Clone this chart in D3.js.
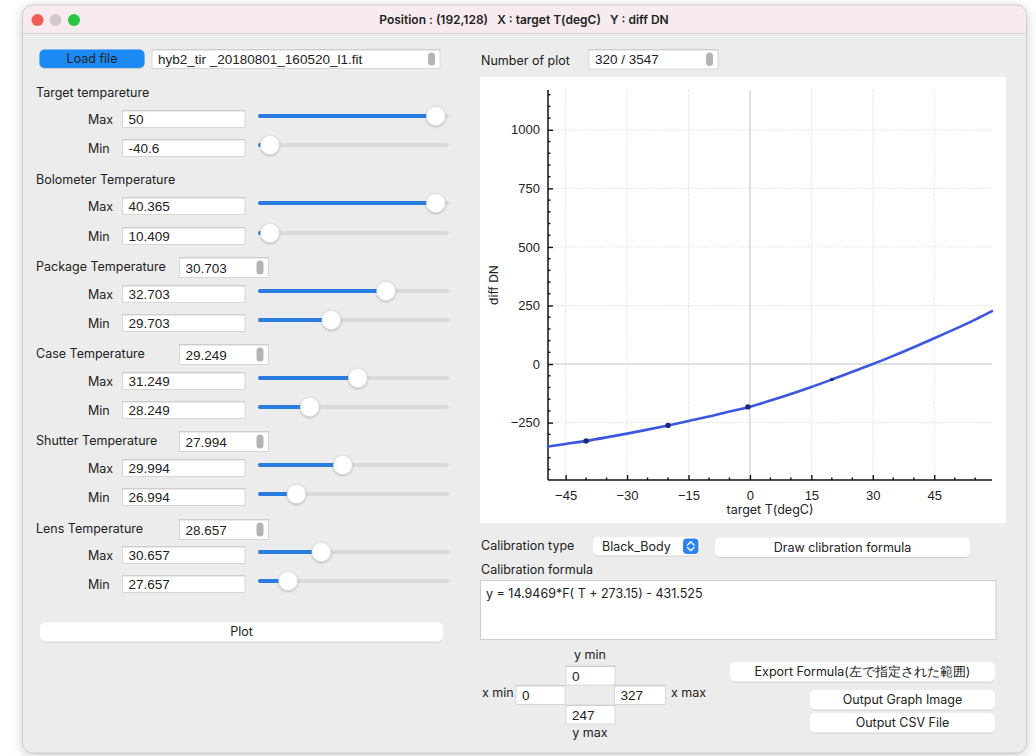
<!DOCTYPE html>
<html>
<head>
<meta charset="utf-8">
<script src="https://cdn.jsdelivr.net/npm/d3@7"></script>
<style>
  html, body { margin: 0; padding: 0; background: #ffffff; }
  svg { display: block; }
  .ui { font-family: "Inter", "Noto Sans", sans-serif; font-size: 12px; fill: #222; }
  .val { font-family: "Liberation Sans", "Arial", sans-serif; font-size: 13.5px; fill: #222; }
  .tick { font-family: "Liberation Sans", "Arial", sans-serif; font-size: 13px; fill: #222; }
</style>
</head>
<body>
<svg id="app" width="1036" height="756"></svg>
<script>
// ---- Calibration curve (target temperature in degC vs diff DN) ----
const curveTemps = [-49.3, -45, -40, -35, -30, -25, -20, -15, -10, -5, 0, 5, 10, 15, 20, 25, 30, 35, 40, 45, 50, 55, 59.1];
const curveDN    = [-352, -341, -328, -313, -297, -280, -262, -243, -224, -203, -182, -156, -128, -98, -66, -33, 0, 35, 72, 110, 149, 190, 226];

// Measured samples shown on the curve
const sampleTemps = [-40, -20, -0.5, 20];
const sampleDN    = [-328, -262, -183, -66];

// Axis ticks
const xTicks = [-45, -30, -15, 0, 15, 30, 45];
const yTicks = [-250, 0, 250, 500, 750, 1000];
const xDomain = [-49.3, 59.1];
const yDomain = [-495, 1170];

// ---- Temperature filter panel ----
const sectionNames   = ["Target tempareture", "Bolometer Temperature", "Package Temperature", "Case Temperature", "Shutter Temperature", "Lens Temperature"];
const currentValues  = [null, null, "30.703", "29.249", "27.994", "28.657"];
const maxValues      = ["50", "40.365", "32.703", "31.249", "29.994", "30.657"];
const minValues      = ["-40.6", "10.409", "29.703", "28.249", "26.994", "27.657"];
const maxSliderFrac  = [0.94, 0.94, 0.674, 0.523, 0.443, 0.328];
const minSliderFrac  = [0.053, 0.053, 0.381, 0.266, 0.195, 0.15];

const fileName = "hyb2_tir _20180801_160520_l1.fit";
const plotCount = "320 / 3547";
const calibType = "Black_Body";
const formulaText = "y = 14.9469*F( T + 273.15) - 431.525";
const rangeFields = { ymin: "0", xmin: "0", xmax: "327", ymax: "247" };
const windowTitle = "Position : (192,128)   X : target T(degC)   Y : diff DN";

const svg = d3.select("#app");
const defs = svg.append("defs");

const winShadow = defs.append("filter").attr("id", "winShadow")
  .attr("x", "-10%").attr("y", "-10%").attr("width", "120%").attr("height", "120%");
winShadow.append("feDropShadow").attr("dx", 0).attr("dy", 2).attr("stdDeviation", 6)
  .attr("flood-color", "#000").attr("flood-opacity", 0.22);

const ctlShadow = defs.append("filter").attr("id", "ctlShadow")
  .attr("x", "-20%").attr("y", "-40%").attr("width", "140%").attr("height", "180%");
ctlShadow.append("feDropShadow").attr("dx", 0).attr("dy", 0.6).attr("stdDeviation", 0.7)
  .attr("flood-color", "#000").attr("flood-opacity", 0.22);

const knobShadow = defs.append("filter").attr("id", "knobShadow")
  .attr("x", "-50%").attr("y", "-50%").attr("width", "200%").attr("height", "200%");
knobShadow.append("feDropShadow").attr("dx", 0).attr("dy", 0.8).attr("stdDeviation", 1.1)
  .attr("flood-color", "#000").attr("flood-opacity", 0.3);

// ---- Window frame ----
const win = { x: 22.5, y: 5, w: 1004, h: 748, r: 10 };
defs.append("clipPath").attr("id", "winClip").append("rect")
  .attr("x", win.x).attr("y", win.y).attr("width", win.w).attr("height", win.h).attr("rx", win.r);

svg.append("rect").attr("x", win.x).attr("y", win.y).attr("width", win.w).attr("height", win.h)
  .attr("rx", win.r).attr("fill", "#ececec").attr("filter", "url(#winShadow)");

const frame = svg.append("g").attr("clip-path", "url(#winClip)");
frame.append("rect").attr("x", win.x).attr("y", win.y).attr("width", win.w).attr("height", 28).attr("fill", "#f8ebf0");
frame.append("line").attr("x1", win.x).attr("x2", win.x + win.w).attr("y1", 33.5).attr("y2", 33.5)
  .attr("stroke", "#dcd2d6").attr("stroke-width", 1);
svg.append("rect").attr("x", win.x).attr("y", win.y).attr("width", win.w).attr("height", win.h)
  .attr("rx", win.r).attr("fill", "none").attr("stroke", "#c4c4c4").attr("stroke-width", 0.8);

[["#ee5d56", 37.5], ["#d0c9cd", 55.5], ["#2bc641", 74]].forEach(([c, cx]) => {
  svg.append("circle").attr("cx", cx).attr("cy", 20).attr("r", 6).attr("fill", c);
});
svg.append("text").attr("x", 524).attr("y", 23.5).attr("text-anchor", "middle")
  .attr("class", "ui").style("font-weight", 600).style("font-size", "12px").style("white-space", "pre")
  .attr("fill", "#3c3c3c")
  .text(windowTitle);

// ---- Control helpers ----
function textField(x, y, w, h, value, scroll) {
  const g = svg.append("g");
  g.append("rect").attr("x", x).attr("y", y).attr("width", w).attr("height", h)
    .attr("fill", "#fff").attr("stroke", "#cfcfcf").attr("stroke-width", 0.8);
  g.append("line").attr("x1", x).attr("x2", x + w).attr("y1", y + 0.5).attr("y2", y + 0.5)
    .attr("stroke", "#b9b9b9").attr("stroke-width", 0.6);
  if (scroll) {
    g.append("rect").attr("x", x + w - 12).attr("y", y + 3).attr("width", 7).attr("height", h - 6)
      .attr("rx", 3.5).attr("fill", "#b4b4b4");
  }
  g.append("text").attr("class", "val").attr("x", x + 6).attr("y", y + h / 2 + 5).text(value);
  return g;
}

function button(x, y, w, h, label, primary) {
  const g = svg.append("g");
  g.append("rect").attr("x", x).attr("y", y).attr("width", w).attr("height", h).attr("rx", 5)
    .attr("fill", primary ? "#1d8af5" : "#ffffff").attr("filter", "url(#ctlShadow)");
  g.append("text").attr("class", "ui").attr("x", x + w / 2).attr("y", y + h / 2 + 4.3)
    .attr("text-anchor", "middle").attr("fill", primary ? "#ffffff" : "#2a2a2a")
    .style("font-size", "12.5px").text(label);
  return g;
}

function slider(x0, x1, y, frac) {
  const g = svg.append("g");
  const kx = x0 + (x1 - x0) * frac;
  g.append("line").attr("x1", x0).attr("x2", x1).attr("y1", y).attr("y2", y)
    .attr("stroke", "#dadada").attr("stroke-width", 4).attr("stroke-linecap", "round");
  g.append("line").attr("x1", x0).attr("x2", kx).attr("y1", y).attr("y2", y)
    .attr("stroke", "#2a7de0").attr("stroke-width", 4).attr("stroke-linecap", "round");
  g.append("circle").attr("cx", kx).attr("cy", y).attr("r", 9.5)
    .attr("fill", "#ffffff").attr("stroke", "#d2d2d2").attr("stroke-width", 0.5)
    .attr("filter", "url(#knobShadow)");
  return g;
}

// ---- Left panel ----
button(39.5, 49.5, 105, 18.5, "Load file", true);
textField(152, 49.5, 288, 19, fileName, true);

const headerY = [92, 179, 266, 353, 440, 528];
const maxRowY = [119, 206, 294, 381, 468, 555];
const minRowY = [148, 236, 323, 410, 497, 584];

sectionNames.forEach((name, i) => {
  svg.append("text").attr("class", "ui").attr("x", 36).attr("y", headerY[i] + 4.5)
    .style("font-size", "12.5px").text(name);
  if (currentValues[i] !== null) {
    textField(179.5, headerY[i] - 8.5, 89, 20, currentValues[i], true);
  }
  [[maxRowY[i], "Max", maxValues[i], maxSliderFrac[i]], [minRowY[i], "Min", minValues[i], minSliderFrac[i]]]
    .forEach(([ry, lbl, v, f]) => {
      svg.append("text").attr("class", "ui").attr("x", 88).attr("y", ry + 4.5)
        .style("font-size", "12.5px").text(lbl);
      textField(122.5, ry - 8.5, 122.5, 17, v, false);
      slider(260, 447, ry - 3, f);
    });
});

button(40, 622.5, 403, 19, "Plot", false);

// ---- Right panel: plot count ----
svg.append("text").attr("class", "ui").attr("x", 481).attr("y", 64.5).style("font-size", "12.5px").text("Number of plot");
textField(589, 49.5, 129, 19.5, plotCount, true);

// ---- Chart ----
const panel = { x: 480, y: 77, w: 526, h: 446 };
svg.append("rect").attr("x", panel.x).attr("y", panel.y).attr("width", panel.w).attr("height", panel.h).attr("fill", "#ffffff");

const plot = { left: 548, right: 992, top: 90, bottom: 480 };
const x = d3.scaleLinear().domain(xDomain).range([plot.left, plot.right]);
const y = d3.scaleLinear().domain(yDomain).range([plot.bottom, plot.top]);

const chart = svg.append("g");

// dotted grid at major ticks
chart.append("g").selectAll("line").data(xTicks.filter(d => d !== 0)).join("line")
  .attr("x1", d => x(d)).attr("x2", d => x(d)).attr("y1", plot.top).attr("y2", plot.bottom)
  .attr("stroke", "#d6d6d6").attr("stroke-width", 1).attr("stroke-dasharray", "1,1.6");
chart.append("g").selectAll("line").data(yTicks.filter(d => d !== 0)).join("line")
  .attr("x1", plot.left).attr("x2", plot.right).attr("y1", d => y(d)).attr("y2", d => y(d))
  .attr("stroke", "#d6d6d6").attr("stroke-width", 1).attr("stroke-dasharray", "1,1.6");

// zero lines
chart.append("line").attr("x1", x(0)).attr("x2", x(0)).attr("y1", plot.top).attr("y2", plot.bottom)
  .attr("stroke", "#d9d9d9").attr("stroke-width", 1.6);
chart.append("line").attr("x1", plot.left).attr("x2", plot.right).attr("y1", y(0)).attr("y2", y(0))
  .attr("stroke", "#d9d9d9").attr("stroke-width", 1.6);

// axes
const xAxis = d3.axisBottom(x).tickValues(xTicks).tickSize(-5).tickPadding(8).tickFormat(d3.format("d"));
const yAxis = d3.axisLeft(y).tickValues(yTicks).tickSize(-5).tickPadding(8).tickFormat(d3.format("d"));

const gx = chart.append("g").attr("transform", `translate(0,${plot.bottom})`).call(xAxis);
const gy = chart.append("g").attr("transform", `translate(${plot.left},0)`).call(yAxis);
[gx, gy].forEach(g => {
  g.select(".domain").remove();
  g.selectAll(".tick line").attr("stroke", "#111").attr("stroke-width", 1.4);
  g.selectAll(".tick text").attr("class", "tick").attr("fill", "#222");
});
gx.selectAll(".tick text").attr("dy", "0.9em");

// minor ticks
const xMinor = d3.range(-45, 60, 5).filter(d => xTicks.indexOf(d) < 0);
const yMinor = d3.range(-450, 1151, 50).filter(d => yTicks.indexOf(d) < 0);
chart.append("g").selectAll("line").data(xMinor).join("line")
  .attr("x1", d => x(d)).attr("x2", d => x(d)).attr("y1", plot.bottom - 2.5).attr("y2", plot.bottom)
  .attr("stroke", "#111").attr("stroke-width", 1.4);
chart.append("g").selectAll("line").data(yMinor).join("line")
  .attr("x1", plot.left).attr("x2", plot.left + 2.5).attr("y1", d => y(d)).attr("y2", d => y(d))
  .attr("stroke", "#111").attr("stroke-width", 1.4);

chart.append("line").attr("x1", plot.left).attr("x2", plot.right).attr("y1", plot.bottom).attr("y2", plot.bottom)
  .attr("stroke", "#111").attr("stroke-width", 1.5);
chart.append("line").attr("x1", plot.left).attr("x2", plot.left).attr("y1", plot.top).attr("y2", plot.bottom)
  .attr("stroke", "#111").attr("stroke-width", 1.5);

// axis titles
chart.append("text").attr("class", "ui").attr("x", 770).attr("y", 514).attr("text-anchor", "middle")
  .style("font-size", "12.5px").text("target T(degC)");
chart.append("text").attr("class", "ui").attr("transform", "translate(498,285) rotate(-90)")
  .attr("text-anchor", "middle").style("font-size", "12px").text("diff DN");

// calibration curve
const curvePts = curveTemps.map((t, i) => [t, curveDN[i]]);
const line = d3.line().x(d => x(d[0])).y(d => y(d[1])).curve(d3.curveMonotoneX);
chart.append("path").datum(curvePts).attr("d", line)
  .attr("fill", "none").attr("stroke", "#3b57e2").attr("stroke-width", 2.6).attr("stroke-linecap", "round");

// sample points
chart.append("g").selectAll("circle").data(sampleTemps.map((t, i) => [t, sampleDN[i]])).join("circle")
  .attr("cx", d => x(d[0])).attr("cy", d => y(d[1])).attr("r", (d, i) => i === 3 ? 1.8 : 2.7)
  .attr("fill", "#1b2a78");

// ---- Calibration controls ----
svg.append("text").attr("class", "ui").attr("x", 481).attr("y", 550).style("font-size", "12.5px").text("Calibration type");
const dd = svg.append("g");
dd.append("rect").attr("x", 593).attr("y", 537).attr("width", 107).attr("height", 18.5).attr("rx", 5)
  .attr("fill", "#fff").attr("filter", "url(#ctlShadow)");
dd.append("text").attr("class", "ui").attr("x", 602).attr("y", 550.5).style("font-size", "12.5px").text(calibType);
dd.append("rect").attr("x", 683).attr("y", 538.5).attr("width", 15.5).attr("height", 15.5).attr("rx", 4).attr("fill", "#2b83f0");
dd.append("path").attr("d", "M687.5,545 L690.75,541.8 L694,545 M687.5,547.5 L690.75,550.7 L694,547.5")
  .attr("fill", "none").attr("stroke", "#fff").attr("stroke-width", 1.4).attr("stroke-linecap", "round").attr("stroke-linejoin", "round");

button(715, 537.5, 255, 19.5, "Draw clibration formula", false);

svg.append("text").attr("class", "ui").attr("x", 481).attr("y", 574).style("font-size", "12.5px").text("Calibration formula");
svg.append("rect").attr("x", 480.5).attr("y", 580.5).attr("width", 515.5).attr("height", 59)
  .attr("fill", "#fff").attr("stroke", "#c8c8c8").attr("stroke-width", 0.9);
svg.append("text").attr("class", "ui").attr("x", 486).attr("y", 598).style("font-size", "12.5px").text(formulaText);

// ---- Export range fields ----
svg.append("text").attr("class", "ui").attr("x", 590).attr("y", 659).attr("text-anchor", "middle").style("font-size", "12.5px").text("y min");
textField(566, 666, 49, 19, rangeFields.ymin, false);
svg.append("text").attr("class", "ui").attr("x", 482).attr("y", 697).style("font-size", "12.5px").text("x min");
textField(516, 685.5, 49, 19, rangeFields.xmin, false);
textField(614.5, 685.5, 51, 19, rangeFields.xmax, false);
svg.append("text").attr("class", "ui").attr("x", 671).attr("y", 697).style("font-size", "12.5px").text("x max");
textField(566, 705, 49, 19, rangeFields.ymax, false);
svg.append("text").attr("class", "ui").attr("x", 590).attr("y", 737).attr("text-anchor", "middle").style("font-size", "12.5px").text("y max");

button(730, 662, 265, 19.5, "Export Formula(左で指定された範囲)", false);
button(810, 690, 185, 19.5, "Output Graph Image", false);
button(810, 713, 185, 19.5, "Output CSV File", false);
</script>
</body>
</html>
